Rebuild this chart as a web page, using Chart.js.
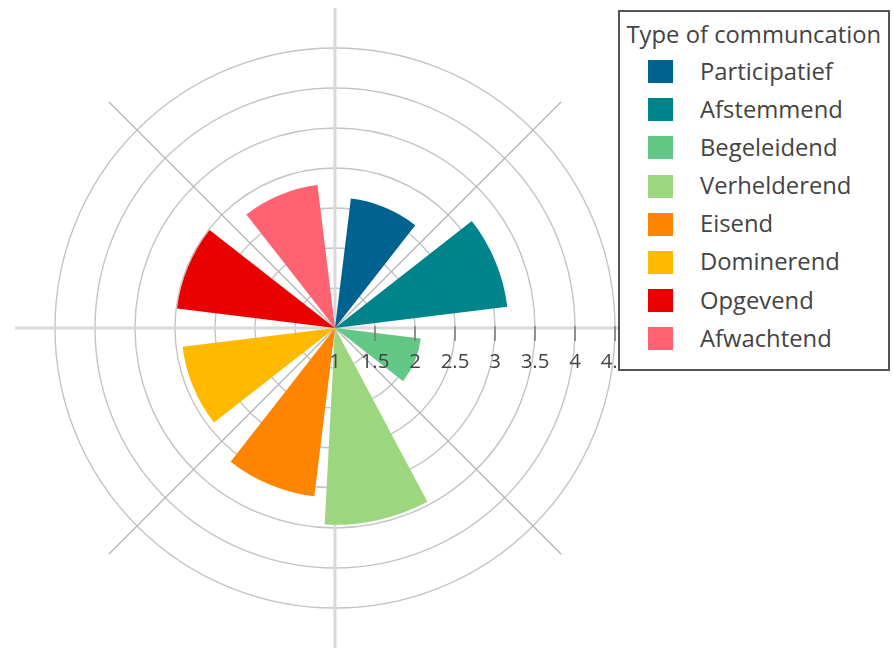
<!DOCTYPE html>
<html lang="nl">
<head>
    <meta charset="UTF-8">
    <title>Type of communcation</title>
    <script src="https://cdn.jsdelivr.net/npm/chart.js"></script>
    <style>
        body { margin: 0; background: #fff; overflow: hidden; font-family: "Open Sans", sans-serif; }
        #wrap { position: relative; width: 894px; height: 649px; }
        #legend {
            position: absolute; left: 618px; top: 10px; width: 272px; height: 361px;
            box-sizing: border-box; border: 2px solid #555; background: #fff;
            color: #444; font-size: 23.8px;
        }
        #legend .title, #legend .item { position: absolute; height: 24px; line-height: 24px; white-space: nowrap; }
        #legend .swatch { position: absolute; width: 25px; height: 23px; }
    </style>
</head>
<body>
<div id="wrap">
    <canvas id="polarChart" width="894" height="649"></canvas>
    <div id="legend"><div class="title" style="left:6.5px; top:10.3px;">Type of communcation</div></div>
</div>

<script>
    // data
    const categories = ['Participatief', 'Afstemmend', 'Begeleidend', 'Verhelderend', 'Eisend', 'Dominerend', 'Opgevend', 'Afwachtend'];
    const values = [2.63, 3.17, 2.08, 3.46, 3.12, 2.92, 2.99, 2.8];
    const thetas = [22.5, 67.5, 112.5, 167.5, 202.5, 247.5, 292.5, 337.5];   // degrees, clockwise from top
    const colors = ['#00628f', '#00848b', '#63c885', '#9cd67f', '#ff8500', '#ffba00', '#eb0000', '#ff6270'];
    const tickValues = [1, 1.5, 2, 2.5, 3, 3.5, 4, 4.5];
    const tickLabels = ['1', '1.5', '2', '2.5', '3', '3.5', '4', '4.5'];

    const barWidth = 31; // angular width of each bar

    // polarArea arcs are contiguous, so put an empty arc before every bar
    const segments = [];
    let prevEnd = 0;
    thetas.forEach((t, i) => {
        segments.push({ r: 1, angle: t - barWidth / 2 - prevEnd, color: 'rgba(0,0,0,0)' });
        segments.push({ r: values[i], angle: barWidth, color: colors[i] });
        prevEnd = t + barWidth / 2;
    });

    // tick marks + labels along the right horizontal axis
    const radialTicks = {
        id: 'radialTicks',
        afterDatasetsDraw(chart) {
            const scale = chart.scales.r;
            const ctx = chart.ctx;
            ctx.save();
            ctx.strokeStyle = '#777';
            ctx.lineWidth = 1.5;
            ctx.fillStyle = '#444';
            ctx.font = '20.4px "Open Sans"';
            ctx.textAlign = 'center';
            ctx.textBaseline = 'alphabetic';
            tickValues.forEach((v, i) => {
                const x = scale.xCenter + scale.getDistanceFromCenterForValue(v);
                if (i > 0) {
                    ctx.beginPath();
                    ctx.moveTo(x, scale.yCenter - 2);
                    ctx.lineTo(x, scale.yCenter + 13);
                    ctx.stroke();
                }
                ctx.fillText(tickLabels[i], x, scale.yCenter + 40);
            });
            ctx.restore();
        }
    };

    const segOpt = (key) => (c) => {
        const s = segments[c.dataIndex];
        return s ? s[key] : undefined;
    };

    new Chart(document.getElementById('polarChart'), {
        type: 'polarArea',
        data: {
            labels: categories,
            datasets: [{
                data: segments.map(s => s.r),
                angle: segOpt('angle'),
                backgroundColor: segOpt('color'),
                borderWidth: 0
            }]
        },
        options: {
            responsive: false,
            animation: false,
            layout: { padding: { left: 15, top: 8, right: 239, bottom: 1 } },
            plugins: {
                legend: { display: false },
                tooltip: { enabled: false }
            },
            scales: {
                r: {
                    min: 1,
                    max: 5,
                    beginAtZero: false,
                    ticks: { display: false, stepSize: 0.5 },
                    afterBuildTicks: (scale) => { scale.ticks = tickValues.map(value => ({ value })); },
                    pointLabels: { display: false },
                    grid: { circular: true, color: '#c4c4c4', lineWidth: 1.4 },
                    angleLines: {
                        display: true,
                        color: (c) => c.index % 2 === 0 ? '#d9d9d9' : '#b3b3b3',
                        lineWidth: (c) => c.index % 2 === 0 ? 3 : 1.2
                    }
                }
            }
        },
        plugins: [radialTicks]
    });

    // legend box
    const legend = document.getElementById('legend');
    categories.forEach((name, i) => {
        const cy = 59.7 + 38.1 * i;
        const sw = document.createElement('div');
        sw.className = 'swatch';
        sw.style.left = '28px';
        sw.style.top = (cy - 11.5) + 'px';
        sw.style.background = colors[i];
        legend.appendChild(sw);
        const label = document.createElement('div');
        label.className = 'item';
        label.style.left = '80px';
        label.style.top = (cy - 12.75) + 'px';
        label.textContent = name;
        legend.appendChild(label);
    });
</script>
</body>
</html>
